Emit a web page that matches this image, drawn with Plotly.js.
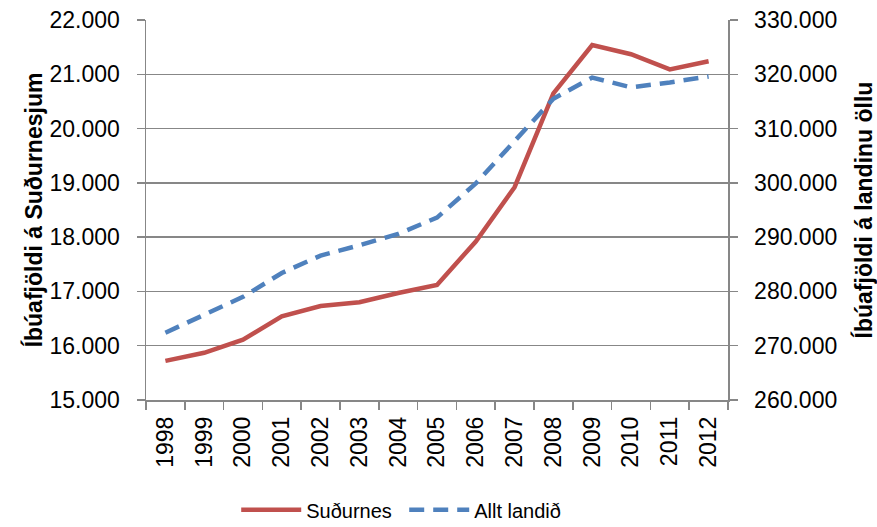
<!DOCTYPE html>
<html>
<head>
<meta charset="utf-8">
<script src="https://cdn.plot.ly/plotly-3.0.1.min.js"></script>
<style>html,body{margin:0;padding:0;background:#fff;}#chart{width:877px;height:527px;}</style>
</head>
<body>
<div id="chart"></div>
<script>
var years = ["1998","1999","2000","2001","2002","2003","2004","2005","2006","2007","2008","2009","2010","2011","2012"];
var sudurnes = [15720, 15870, 16110, 16540, 16730, 16800, 16970, 17120, 17920, 18920, 20650, 21540, 21370, 21090, 21240];
var alltLandid = [272400, 275700, 279000, 283400, 286600, 288500, 290600, 293600, 299900, 307700, 315500, 319400, 317600, 318500, 319600];

var FONT = "Liberation Sans, Arial, sans-serif";
var GRID = "#878787";

var traces = [
  {x: years, y: sudurnes, name: "Suðurnes", type: "scatter", mode: "lines",
   line: {color: "#C0504D", width: 4.5}, yaxis: "y"},
  {x: years, y: alltLandid, name: "Allt landið", type: "scatter", mode: "lines",
   line: {color: "#4F81BD", width: 4.5, dash: "15px,9px"}, yaxis: "y2"}
];

var layout = {
  width: 877, height: 527,
  margin: {l: 146, r: 149, t: 20, b: 127, pad: 0, autoexpand: false},
  paper_bgcolor: "#fff", plot_bgcolor: "#fff",
  separators: ",.",
  font: {family: FONT, size: 23, color: "#000"},
  showlegend: true,
  legend: {orientation: "h", x: 0.155, xanchor: "left", y: -0.289, yanchor: "middle",
           font: {family: FONT, size: 20}, itemwidth: 60, entrywidth: 93, tracegroupgap: 0},
  xaxis: {type: "category", range: [-0.5, years.length - 0.5], automargin: false, showgrid: false, showline: true,
          linecolor: GRID, linewidth: 1.5,
          ticks: "outside", tickson: "boundaries", ticklen: 8, tickcolor: GRID, tickwidth: 1.5,
          tickangle: -90, tickfont: {family: FONT, size: 23}, zeroline: false, ticklabelstandoff: 6},
  yaxis: {range: [15000, 22000], dtick: 1000, tickformat: ",d", automargin: false, showgrid: true, gridcolor: GRID, gridwidth: 1.5,
          showline: true, linecolor: GRID, linewidth: 1.5, ticks: "outside", ticklen: 8, tickcolor: GRID, tickwidth: 1.5,
          tickfont: {family: FONT, size: 23}, zeroline: false, ticklabelstandoff: 12,
          title: {text: "<b>Íbúafjöldi á Suðurnesjum</b>", font: {family: FONT, size: 23}, standoff: 0}},
  yaxis2: {range: [260000, 330000], dtick: 10000, tickformat: ",d", overlaying: "y", side: "right", automargin: false,
           showgrid: false, showline: true, linecolor: GRID, linewidth: 1.5, ticks: "outside", ticklen: 8,
           tickcolor: GRID, tickwidth: 1.5, tickfont: {family: FONT, size: 23}, zeroline: false, ticklabelstandoff: 12,
           title: {text: "<b>Íbúafjöldi á landinu öllu</b>", font: {family: FONT, size: 23}, standoff: 19}}
};

Plotly.newPlot("chart", traces, layout, {displayModeBar: false, staticPlot: true});
</script>
</body>
</html>
